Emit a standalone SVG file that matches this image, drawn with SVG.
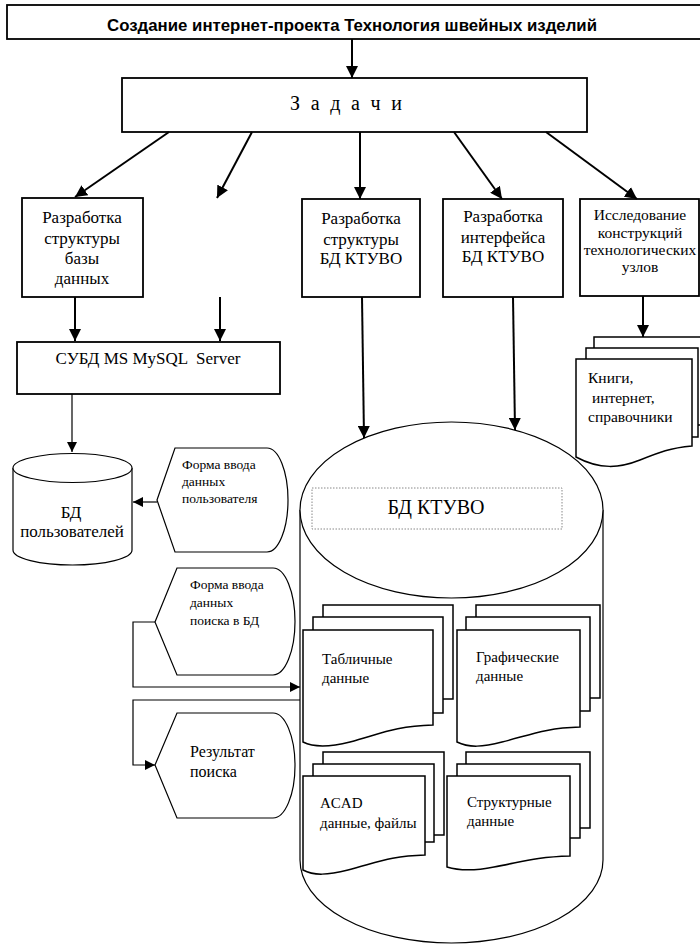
<svg xmlns="http://www.w3.org/2000/svg" width="700" height="946" viewBox="0 0 700 946">
<style>
.bx{fill:#fff;stroke:#000;stroke-width:1.8}
.thin{fill:#fff;stroke:#000;stroke-width:1.2}
.doc{fill:#fff;stroke:#000;stroke-width:1.5}
text{font-family:'Liberation Serif','DejaVu Serif',serif}
.c{text-anchor:middle}
.ln{fill:none;stroke:#000;stroke-width:2}
.lt{fill:none;stroke:#000;stroke-width:1.2}
</style>
<defs>
<marker id="ah" markerUnits="userSpaceOnUse" markerWidth="12" markerHeight="12" refX="12" refY="6" orient="auto">
<path d="M0,0 L12,6 L0,12 Z" fill="#000"/>
</marker>
<marker id="as" markerUnits="userSpaceOnUse" markerWidth="10" markerHeight="10" refX="10" refY="5" orient="auto">
<path d="M0,0 L10,5 L0,10 Z" fill="#000"/>
</marker>
</defs>
<rect width="700" height="946" fill="#fff"/>

<g id="project">
<rect class="bx" x="7" y="5" width="696" height="34"/>
<text x="352" y="31" text-anchor="middle" style="font-family:'Liberation Sans',Arial,sans-serif" font-weight="bold" font-size="17" textLength="490" lengthAdjust="spacingAndGlyphs">Создание интернет-проекта Технология швейных изделий</text>
</g>

<g id="tasks">
<rect class="bx" x="122" y="78" width="465" height="54"/>
<text class="c" x="346" y="110" font-family="Liberation Serif, serif" font-size="20" textLength="112" lengthAdjust="spacing">З а д а ч и</text>
</g>

<g id="dbstruct">
<rect class="bx" x="22" y="198" width="121" height="99"/>
<text class="c" font-family="Liberation Serif, serif" font-size="17"><tspan x="82" y="223">Разработка</tspan><tspan x="82" y="244">структуры</tspan><tspan x="82" y="264">базы</tspan><tspan x="82" y="284">данных</tspan></text>
</g>

<g id="ktuvostruct">
<rect class="bx" x="302" y="199" width="118" height="98"/>
<text class="c" font-family="Liberation Serif, serif" font-size="17"><tspan x="361" y="224">Разработка</tspan><tspan x="361" y="245">структуры</tspan><tspan x="361" y="264">БД КТУВО</tspan></text>
</g>

<g id="ktuvoui">
<rect class="bx" x="443" y="199" width="120" height="98"/>
<text class="c" font-family="Liberation Serif, serif" font-size="17"><tspan x="503" y="222">Разработка</tspan><tspan x="503" y="243">интерфейса</tspan><tspan x="503" y="262">БД КТУВО</tspan></text>
</g>

<g id="research">
<rect class="bx" x="580" y="199" width="119" height="97"/>
<text class="c" font-family="Liberation Serif, serif" font-size="15.5"><tspan x="640" y="220">Исследование</tspan><tspan x="640" y="237.5">конструкций</tspan><tspan x="640" y="255">технологических</tspan><tspan x="640" y="272">узлов</tspan></text>
</g>

<g id="dbms">
<rect class="bx" x="17" y="342" width="263" height="52"/>
<text class="c" x="148" y="364" font-family="Liberation Serif, serif" font-size="17" style="white-space:pre">СУБД MS MySQL  Server</text>
</g>

<g id="userdb">
<path class="thin" d="M13,468 L13,550 A59.5,15 0 0 0 132,550 L132,468"/>
<ellipse class="thin" cx="72.5" cy="468" rx="59.5" ry="14.5"/>
<text class="c" font-family="Liberation Serif, serif" font-size="17"><tspan x="71" y="518">БД</tspan><tspan x="72" y="537">пользователей</tspan></text>
</g>

<g id="userform">
<path class="thin" d="M157,500 L175,448 L267,448 A21,52 0 0 1 267,552 L175,552 Z"/>
<text font-family="Liberation Serif, serif" font-size="13.5"><tspan x="182" y="469">Форма ввода</tspan><tspan x="182" y="486">данных</tspan><tspan x="182" y="503">пользователя</tspan></text>
</g>

<g id="searchform">
<path class="thin" d="M155,622 L177,568 L273,568 A22,53.5 0 0 1 273,675 L177,675 Z"/>
<text font-family="Liberation Serif, serif" font-size="13.5"><tspan x="190" y="589">Форма ввода</tspan><tspan x="190" y="607">данных</tspan><tspan x="190" y="625">поиска в БД</tspan></text>
</g>

<g id="result">
<path class="thin" d="M155,765 L177,713 L273,713 A22,52.5 0 0 1 273,818 L177,818 Z"/>
<text font-family="Liberation Serif, serif" font-size="16"><tspan x="190" y="757">Результат</tspan><tspan x="190" y="777">поиска</tspan></text>
</g>

<g id="ktuvodb">
<path class="thin" d="M300,510 L300,860 A151.5,83 0 0 0 603,860 L603,510"/>
<ellipse class="thin" cx="451.5" cy="510" rx="151.5" ry="88"/>
<rect x="312" y="488" width="250" height="41" fill="none" stroke="#888" stroke-width="1" stroke-dasharray="1.5,1.5"/>
<text class="c" x="436" y="514" font-family="Liberation Serif, serif" font-size="20">БД КТУВО</text>
</g>

<g id="books">
<rect class="doc" x="594" y="337" width="112" height="88"/>
<rect class="doc" x="586" y="348" width="112" height="89"/>
<path class="doc" d="M576,359 H692 V446 C670,448 660,452 640,460 C620,468 600,470 576,457 Z"/>
<text font-family="Liberation Serif, serif" font-size="15.5" style="white-space:pre"><tspan x="588" y="383">Книги,</tspan><tspan x="588" y="403"> интернет,</tspan><tspan x="588" y="422">справочники</tspan></text>
</g>

<g id="tabledata">
<rect class="doc" x="323" y="605" width="130" height="94"/>
<rect class="doc" x="313" y="617" width="130" height="96"/>
<path class="doc" d="M303,630 H433 V725 C395,726 380,734 350,742 C330,747 315,748 303,742 Z"/>
<text font-family="Liberation Serif, serif" font-size="15"><tspan x="322" y="664">Табличные</tspan><tspan x="322" y="683">данные</tspan></text>
</g>

<g id="graphdata">
<rect class="doc" x="476" y="605" width="124" height="93"/>
<rect class="doc" x="466" y="617" width="124" height="94"/>
<path class="doc" d="M457,630 H580 V727 C545,728 530,735 502,742 C483,747 469,748 457,742 Z"/>
<text font-family="Liberation Serif, serif" font-size="15"><tspan x="476" y="662">Графические</tspan><tspan x="476" y="681">данные</tspan></text>
</g>

<g id="acaddata">
<rect class="doc" x="323" y="752" width="121" height="83"/>
<rect class="doc" x="313" y="764" width="121" height="78"/>
<path class="doc" d="M303,776 H425 V855 C390,856 376,863 348,870 C328,875 314,876 303,870 Z"/>
<text font-family="Liberation Serif, serif" font-size="15"><tspan x="320" y="808">ACAD</tspan><tspan x="320" y="828">данные, файлы</tspan></text>
</g>

<g id="structdata">
<rect class="doc" x="466" y="752" width="124" height="76"/>
<rect class="doc" x="457" y="764" width="123" height="74"/>
<path class="doc" d="M447,776 H570 V856 C535,857 522,862 494,867 C474,871 460,871 447,867 Z"/>
<text font-family="Liberation Serif, serif" font-size="15"><tspan x="467" y="807">Структурные</tspan><tspan x="467" y="826">данные</tspan></text>
</g>

<g id="connectors">
<line class="ln" x1="352" y1="39" x2="352" y2="78" marker-end="url(#ah)"/>
<line class="ln" x1="169" y1="132" x2="75" y2="197" marker-end="url(#ah)"/>
<line class="ln" x1="252" y1="132" x2="217" y2="198" marker-end="url(#ah)"/>
<line class="ln" x1="360" y1="132" x2="360" y2="199" marker-end="url(#ah)"/>
<line class="ln" x1="454" y1="132" x2="502" y2="199" marker-end="url(#ah)"/>
<line class="ln" x1="546" y1="132" x2="637" y2="199" marker-end="url(#ah)"/>
<line class="ln" x1="75" y1="297" x2="75" y2="341" marker-end="url(#ah)"/>
<line class="ln" x1="220" y1="297" x2="220" y2="341" marker-end="url(#ah)"/>
<line class="ln" x1="362" y1="297" x2="364" y2="438" marker-end="url(#ah)"/>
<line class="ln" x1="513" y1="297" x2="515" y2="430" marker-end="url(#ah)"/>
<line class="ln" x1="643" y1="296" x2="643" y2="337" marker-end="url(#ah)"/>
<line class="lt" x1="72" y1="394" x2="72" y2="452" marker-end="url(#as)"/>
<line class="lt" x1="157" y1="502" x2="133" y2="502" marker-end="url(#as)"/>
<polyline class="lt" points="155,622 133,622 133,687 300,687" marker-end="url(#as)"/>
<polyline class="lt" points="300,700 133,700 133,765 155,765" marker-end="url(#as)"/>
</g>
</svg>
